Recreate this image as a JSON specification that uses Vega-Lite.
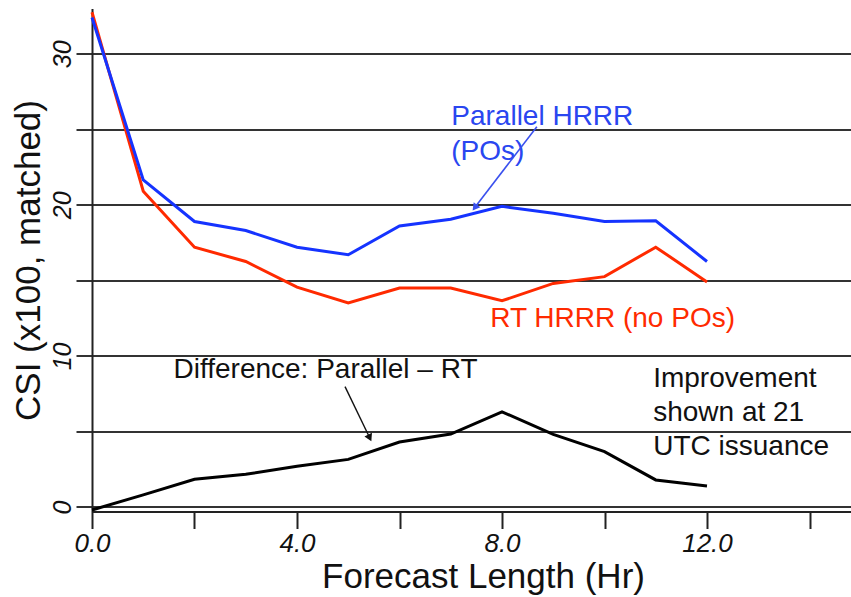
{
  "$schema": "https://vega.github.io/schema/vega-lite/v6.json",
  "width": 758.5,
  "height": 503,
  "autosize": {"type": "none"},
  "padding": {"left": 92, "top": 8.5, "right": 0, "bottom": 85.5},
  "background": "white",
  "config": {"view": {"stroke": null}, "font": "Liberation Sans"},
  "layer": [
    {
      "data": {"values": [
        {"h": 0, "v": 32.75, "s": "RT"}, {"h": 1, "v": 20.9, "s": "RT"}, {"h": 2, "v": 17.2, "s": "RT"},
        {"h": 3, "v": 16.25, "s": "RT"}, {"h": 4, "v": 14.55, "s": "RT"}, {"h": 5, "v": 13.5, "s": "RT"},
        {"h": 6, "v": 14.5, "s": "RT"}, {"h": 7, "v": 14.5, "s": "RT"}, {"h": 8, "v": 13.65, "s": "RT"},
        {"h": 9, "v": 14.8, "s": "RT"}, {"h": 10, "v": 15.25, "s": "RT"}, {"h": 11, "v": 17.2, "s": "RT"},
        {"h": 12, "v": 14.9, "s": "RT"},
        {"h": 0, "v": 32.4, "s": "Parallel"}, {"h": 1, "v": 21.65, "s": "Parallel"}, {"h": 2, "v": 18.9, "s": "Parallel"},
        {"h": 3, "v": 18.3, "s": "Parallel"}, {"h": 4, "v": 17.2, "s": "Parallel"}, {"h": 5, "v": 16.7, "s": "Parallel"},
        {"h": 6, "v": 18.6, "s": "Parallel"}, {"h": 7, "v": 19.05, "s": "Parallel"}, {"h": 8, "v": 19.9, "s": "Parallel"},
        {"h": 9, "v": 19.45, "s": "Parallel"}, {"h": 10, "v": 18.9, "s": "Parallel"}, {"h": 11, "v": 18.95, "s": "Parallel"},
        {"h": 12, "v": 16.25, "s": "Parallel"},
        {"h": 0, "v": -0.2, "s": "Difference"}, {"h": 1, "v": 0.8, "s": "Difference"}, {"h": 2, "v": 1.83, "s": "Difference"},
        {"h": 3, "v": 2.16, "s": "Difference"}, {"h": 4, "v": 2.7, "s": "Difference"}, {"h": 5, "v": 3.15, "s": "Difference"},
        {"h": 6, "v": 4.3, "s": "Difference"}, {"h": 7, "v": 4.83, "s": "Difference"}, {"h": 8, "v": 6.3, "s": "Difference"},
        {"h": 9, "v": 4.8, "s": "Difference"}, {"h": 10, "v": 3.66, "s": "Difference"}, {"h": 11, "v": 1.79, "s": "Difference"},
        {"h": 12, "v": 1.39, "s": "Difference"}
      ]},
      "mark": {"type": "line", "strokeWidth": 3},
      "encoding": {
        "x": {
          "field": "h", "type": "quantitative",
          "scale": {"domain": [0, 14.8], "nice": false, "zero": false},
          "axis": {
            "values": [0, 2, 4, 6, 8, 10, 12, 14],
            "labelExpr": "datum.value % 4 === 0 ? format(datum.value, '.1f') : ''",
            "grid": false,
            "domainColor": "#222", "domainWidth": 2,
            "tickColor": "#222", "tickWidth": 2, "tickSize": 17,
            "labelFont": "Liberation Sans", "labelFontSize": 26, "labelFontStyle": "italic",
            "labelColor": "#111", "labelPadding": 2, "labelFlush": false, "labelOverlap": false,
            "title": "Forecast Length (Hr)", "titleFont": "Liberation Sans", "titleFontSize": 35,
            "titleFontWeight": "normal", "titleColor": "#111", "titlePadding": 3, "titleX": 391
          }
        },
        "y": {
          "field": "v", "type": "quantitative",
          "scale": {"domain": [-0.3, 33], "nice": false, "zero": false},
          "axis": {
            "values": [0, 5, 10, 15, 20, 25, 30],
            "labelExpr": "datum.value % 10 === 0 ? datum.label : ''",
            "grid": true, "gridColor": "#333", "gridWidth": 2, "gridOpacity": 1,
            "domainColor": "#222", "domainWidth": 2,
            "tickColor": "#333", "tickWidth": 2, "tickSize": 16,
            "labelAngle": 270, "labelAlign": "center", "labelBaseline": "bottom",
            "labelFont": "Liberation Sans", "labelFontSize": 25, "labelFontStyle": "italic",
            "labelColor": "#111", "labelPadding": 1, "labelOverlap": false,
            "title": "CSI (x100, matched)", "titleFont": "Liberation Sans", "titleFontSize": 35,
            "titleFontWeight": "normal", "titleColor": "#111", "titleX": -64, "titleBaseline": "middle"
          }
        },
        "color": {
          "field": "s", "type": "nominal",
          "scale": {"domain": ["RT", "Parallel", "Difference"], "range": ["#ff2a00", "#1533ff", "#000000"]},
          "legend": null
        }
      }
    },
    {
      "data": {"values": [{"k": 1}]},
      "mark": {"type": "text", "align": "left", "baseline": "alphabetic", "fontSize": 28, "lineHeight": 35, "color": "#2a46f0", "font": "Liberation Sans"},
      "encoding": {"x": {"datum": 7.01, "type": "quantitative"}, "y": {"datum": 25.3, "type": "quantitative"}, "text": {"value": ["Parallel HRRR", "(POs)"]}}
    },
    {
      "data": {"values": [{"k": 1}]},
      "mark": {"type": "text", "align": "left", "baseline": "alphabetic", "fontSize": 28, "color": "#ff2a00", "font": "Liberation Sans"},
      "encoding": {"x": {"datum": 7.77, "type": "quantitative"}, "y": {"datum": 11.92, "type": "quantitative"}, "text": {"value": "RT HRRR (no POs)"}}
    },
    {
      "data": {"values": [{"k": 1}]},
      "mark": {"type": "text", "align": "left", "baseline": "alphabetic", "fontSize": 28, "color": "#111", "font": "Liberation Sans"},
      "encoding": {"x": {"datum": 1.59, "type": "quantitative"}, "y": {"datum": 8.52, "type": "quantitative"}, "text": {"value": "Difference: Parallel \u2013 RT"}}
    },
    {
      "data": {"values": [{"k": 1}]},
      "mark": {"type": "text", "align": "left", "baseline": "alphabetic", "fontSize": 28, "lineHeight": 34, "color": "#111", "font": "Liberation Sans"},
      "encoding": {"x": {"datum": 10.95, "type": "quantitative"}, "y": {"datum": 7.96, "type": "quantitative"}, "text": {"value": ["Improvement", "shown at 21", "UTC issuance"]}}
    },
    {
      "data": {"values": [{"k": 1}]},
      "mark": {"type": "rule", "strokeWidth": 1.6, "color": "#3a50ee"},
      "encoding": {"x": {"datum": 8.68, "type": "quantitative"}, "y": {"datum": 25.17, "type": "quantitative"}, "x2": {"datum": 7.45}, "y2": {"datum": 19.75}}
    },
    {
      "data": {"values": [{"k": 1}]},
      "mark": {"type": "point", "shape": "triangle-up", "filled": true, "size": 70, "angle": 217, "color": "#3a50ee", "opacity": 1},
      "encoding": {"x": {"datum": 7.47, "type": "quantitative"}, "y": {"datum": 19.82, "type": "quantitative"}}
    },
    {
      "data": {"values": [{"k": 1}]},
      "mark": {"type": "rule", "strokeWidth": 1.4, "color": "#111"},
      "encoding": {"x": {"datum": 4.937, "type": "quantitative"}, "y": {"datum": 7.97, "type": "quantitative"}, "x2": {"datum": 5.43}, "y2": {"datum": 4.5}}
    },
    {
      "data": {"values": [{"k": 1}]},
      "mark": {"type": "point", "shape": "triangle-up", "filled": true, "size": 70, "angle": 154, "color": "#111", "opacity": 1},
      "encoding": {"x": {"datum": 5.42, "type": "quantitative"}, "y": {"datum": 4.57, "type": "quantitative"}}
    }
  ]
}
